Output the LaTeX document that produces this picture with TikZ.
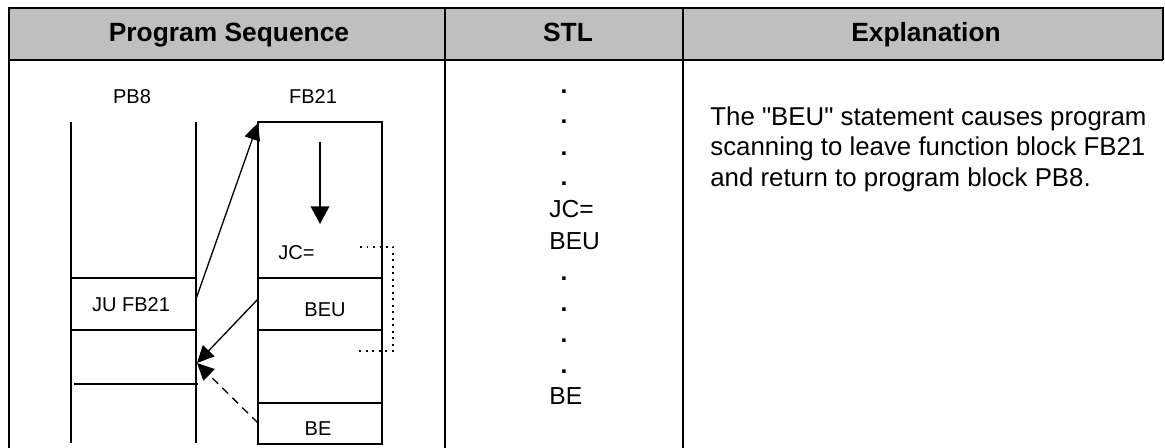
\documentclass[tikz,border=0pt]{standalone}
\usepackage{fontspec}
\setmainfont{Liberation Sans}
\usetikzlibrary{arrows.meta,positioning}

\tikzset{
    frame/.style={line width=0.9pt},
    blk/.style={line width=0.75pt},
    flow/.style={blk, -{Triangle[length=3.4mm, width=3.2mm]}},
    lbl/.style={font=\fontsize{11.4}{13}\selectfont, inner sep=0},
    stl/.style={font=\fontsize{14}{16}\selectfont, inner sep=0},
    hdr/.style={font=\fontsize{15}{17}\selectfont\bfseries, inner sep=0},
    expl/.style={font=\fontsize{14.7}{17.6}\selectfont, inner sep=0, align=left},
}

\begin{document}
\begin{tikzpicture}[x=0.02cm, y=-0.02cm]
\useasboundingbox (0,0) rectangle (1165,448);

% table head
\fill[black!25] (9,8) rectangle (1163,60);
\draw[frame] (9,448) -- (9,8) -- (1163,8) -- (1163,60);
\draw[frame] (9,60) -- (1163,60);
\draw[frame] (445,8) -- (445,448) (683,8) -- (683,448);
\node[hdr, anchor=base] (hseq) at (229,42) {Program Sequence};
\node[hdr, anchor=base] (hstl) at (568,42) {STL};
\node[hdr, anchor=base] (hexp) at (926,42) {Explanation};

% block PB8
\node[lbl, anchor=base] (pb) at (132,103.5) {PB8};
\draw[blk] (71,122) -- (71,443) (196,122) -- (196,443);
\draw[blk] (71,278) -- (196,278) (71,330) -- (196,330) (74,384) -- (198,384);
\node[lbl, anchor=base] (ju) at (131,312) {JU FB21};

% block FB21
\node[lbl, anchor=base] (fb) at (313,104) {FB21};
\draw[blk] (258,122) rectangle (382,444);
\draw[blk] (258,278) -- (382,278) (258,330) -- (382,330) (258,403) -- (382,403);
\node[lbl, anchor=base west] (jc) at (278,260) {JC=};
\node[lbl, anchor=base] (beu) at (325,317) {BEU};
\node[lbl, anchor=base] (be) at (318,436) {BE};

% jump points
\coordinate (call) at (196,299);
\coordinate (entry) at (258,123);
\coordinate (leave) at (258,299);
\coordinate (back) at (197,363);
\coordinate (end) at (258,423);
\coordinate (scan0) at (320,142);
\coordinate (scan1) at (320,224);

\draw[flow] (call) -- (entry);
\draw[flow, -{Triangle[length=3.5mm, width=3.7mm]}] (scan0) -- (scan1);
\draw[flow] (leave) -- (back);
\draw[flow, dash pattern=on 1.6mm off 1.2mm] (end) -- (back);
\draw[line width=0.9pt, dash pattern=on 0.35mm off 0.95mm] (360,247) -- (393,247) -- (393,351) -- (358,351);

% STL column
\foreach \y in {94,124,156,186,281,312,343,374}
    \node[stl, anchor=base, font=\fontsize{14}{16}\selectfont\bfseries] (dot\y) at (564,\y) {.};
\node[stl, anchor=base west] (sjc) at (549,218) {JC=};
\node[stl, anchor=base west] (sbeu) at (549,250) {BEU};
\node[stl, anchor=base west] (sbe) at (549,405) {BE};

% explanation
\node[expl, anchor=north west] (txt) at (710,106)
    {The \textquotedbl BEU\textquotedbl{} statement causes program\\
     scanning to leave function block FB21\\
     and return to program block PB8.};
\end{tikzpicture}
\end{document}
